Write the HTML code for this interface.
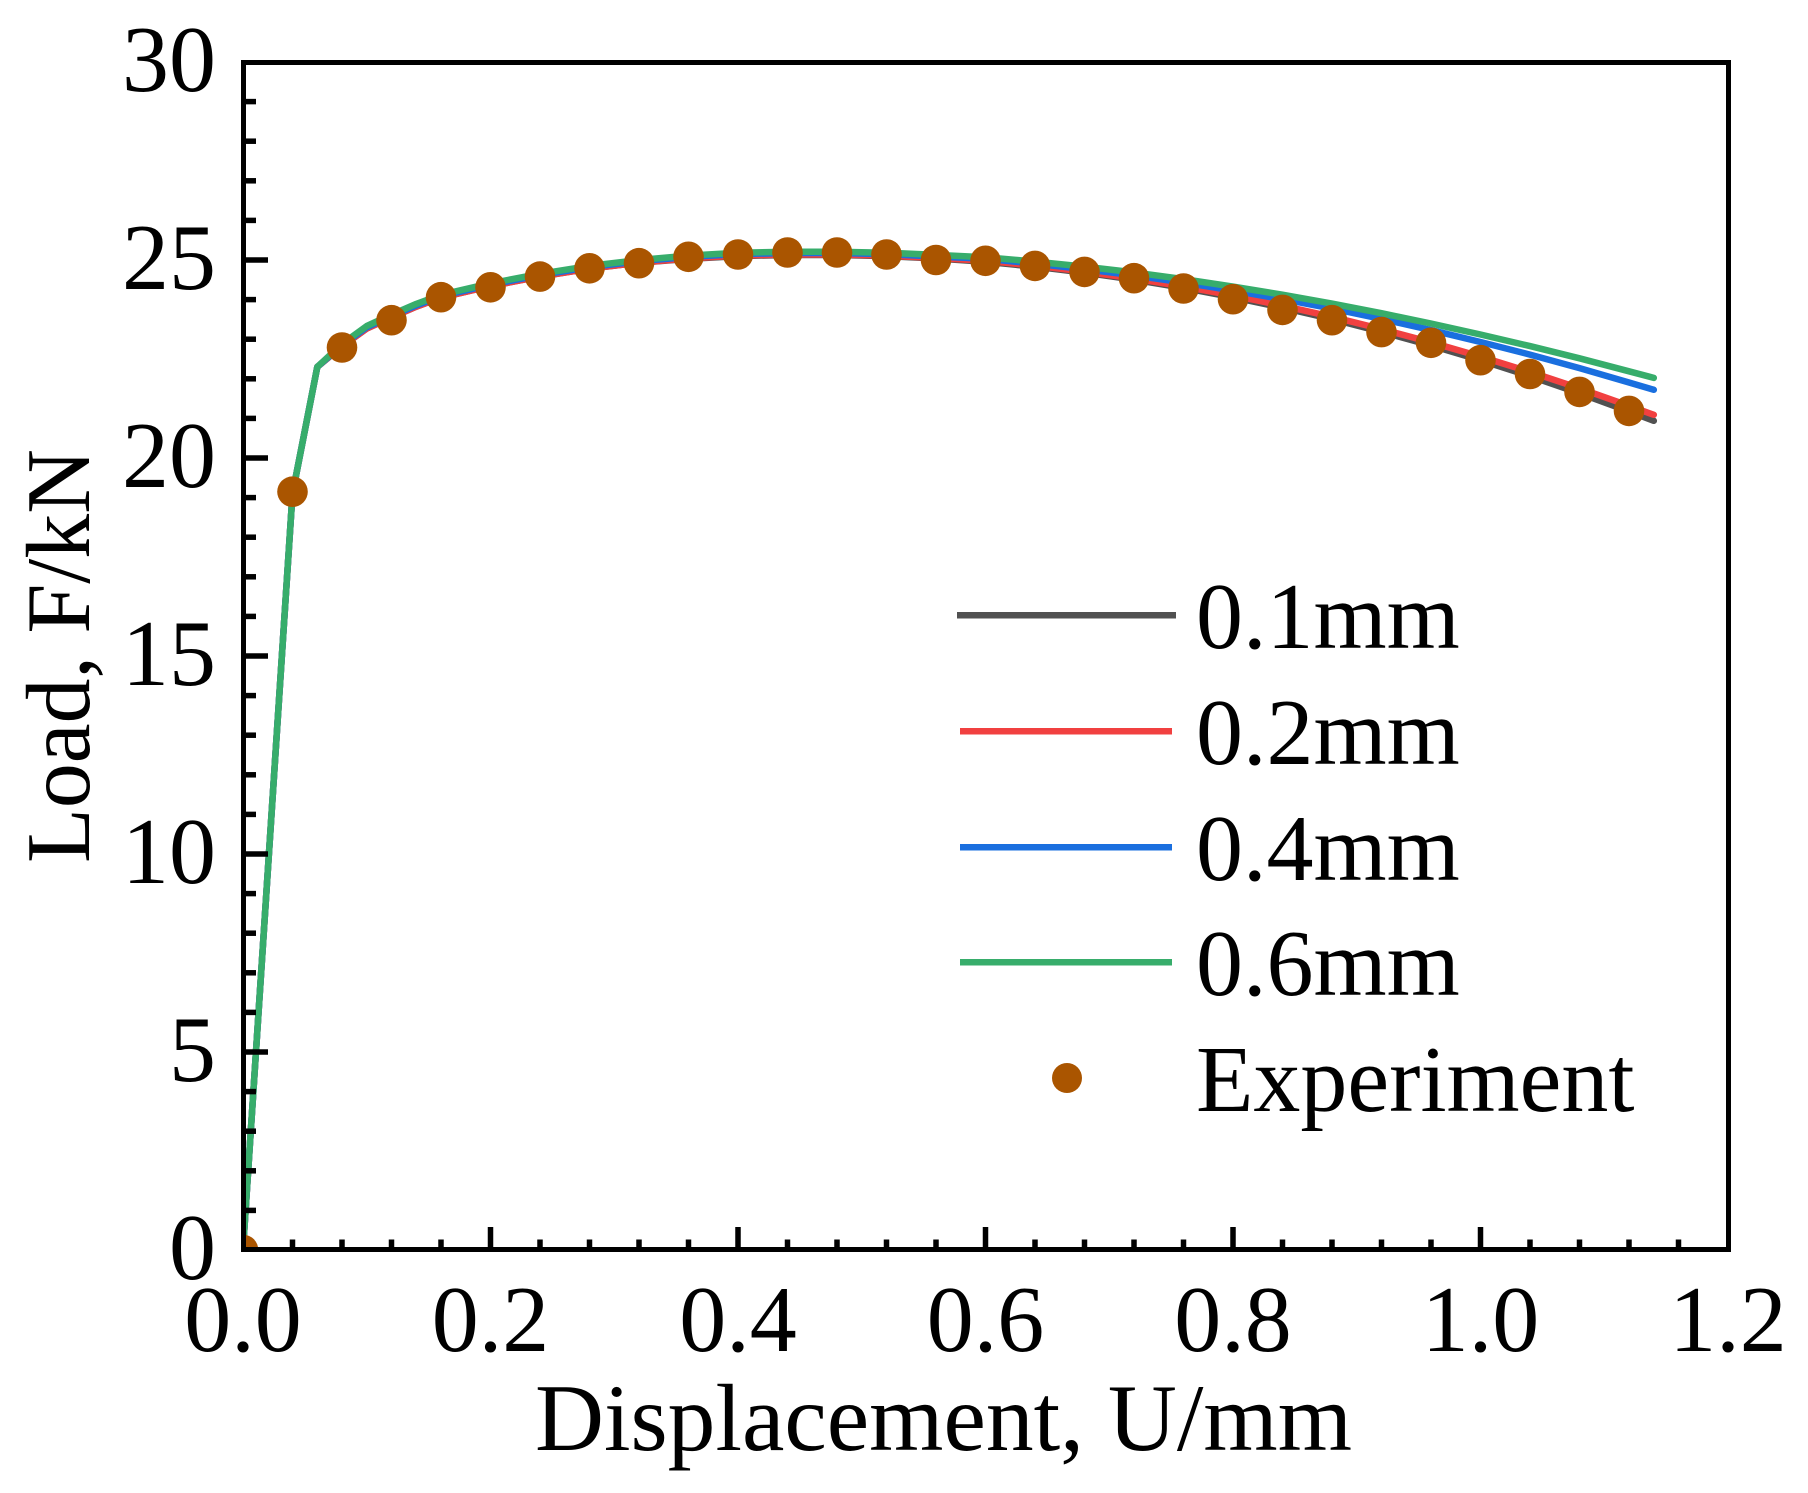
<!DOCTYPE html>
<html>
<head>
<meta charset="utf-8">
<style>
  html, body { margin: 0; padding: 0; background: #ffffff; }
  svg { display: block; }
  text { font-family: "Liberation Serif", "Times New Roman", serif; fill: #000; }
</style>
</head>
<body>
<svg width="1808" height="1493" viewBox="0 0 1808 1493" xmlns="http://www.w3.org/2000/svg">
  <rect x="0" y="0" width="1808" height="1493" fill="#ffffff"/>
  <defs>
    <clipPath id="plot">
      <rect x="243" y="62" width="1485" height="1188"/>
    </clipPath>
  </defs>

  <g clip-path="url(#plot)" fill="none" stroke-width="6.5" stroke-linejoin="round" stroke-linecap="round">
    <!-- 0.1mm gray -->
    <polyline stroke="#515151" points="243,1250 292.5,493.6 317.3,366.9 342,346.3 366.8,328.5 391.5,317.4 416.3,306.7 441,297.6 490.5,286.1 540,276.6 589.5,268.7 639,262.8 688.5,258.9 738,256.1 787.5,255 837,255 886.5,256.1 936,258.5 985.5,261.8 1035,266.7 1084.5,272.7 1134,279.7 1183.5,287.9 1233,297.3 1282.5,307.7 1332,319.1 1381.5,331.9 1431,345.5 1480.5,360.3 1530,376.2 1579.5,393.3 1629,411.4 1653.8,420.8"/>
    <!-- 0.2mm red -->
    <polyline stroke="#F14040" points="243,1250 292.5,493.6 317.3,366.9 342,346.3 366.8,328.5 391.5,317.4 416.3,306.7 441,297.6 490.5,286.1 540,276.6 589.5,268.7 639,262.8 688.5,258.4 738,255.6 787.5,254.5 837,254.5 886.5,255.6 936,258 985.5,260.8 1035,265.7 1084.5,271.6 1134,278.5 1183.5,286.5 1233,295.6 1282.5,305.7 1332,316.8 1381.5,329.1 1431,342.3 1480.5,356.6 1530,371.9 1579.5,388.3 1629,405.8 1653.8,414.8"/>
    <!-- 0.4mm blue -->
    <polyline stroke="#1A6FDF" points="243,1250 292.5,493.6 317.3,366.9 342,345.3 366.8,327.3 391.5,316.2 416.3,305.4 441,296.2 490.5,284.7 540,275.2 589.5,267.2 639,261.3 688.5,256.9 738,254.1 787.5,253 837,253 886.5,254.1 936,256.5 985.5,258.8 1035,263.6 1084.5,269.1 1134,275.4 1183.5,282.5 1233,290.5 1282.5,299.2 1332,308.6 1381.5,319 1431,330.1 1480.5,342 1530,354.6 1579.5,368.1 1629,382.5 1653.8,389.8"/>
    <!-- 0.6mm green -->
    <polyline stroke="#37AD6B" points="243,1250 292.5,493.6 317.3,366.9 342,344 366.8,326 391.5,314.6 416.3,303.9 441,294.8 490.5,283.3 540,273.8 589.5,265.9 639,260 688.5,255.6 738,252.8 787.5,251.7 837,251.7 886.5,252.7 936,254.9 985.5,257.3 1035,261.6 1084.5,266.6 1134,272.4 1183.5,279.1 1233,286.6 1282.5,294.7 1332,303.6 1381.5,313.2 1431,323.5 1480.5,334.5 1530,346.1 1579.5,358.3 1629,371.3 1653.8,377.9"/>

    <!-- Experiment markers -->
    <g fill="#AA5500" stroke="none">
      <circle cx="243" cy="1250" r="15.3"/>
      <circle cx="292.5" cy="491.7" r="15.3"/>
      <circle cx="342" cy="347.5" r="15.3"/>
      <circle cx="391.5" cy="320.2" r="15.3"/>
      <circle cx="441" cy="297.2" r="15.3"/>
      <circle cx="490.5" cy="287.3" r="15.3"/>
      <circle cx="540" cy="276.6" r="15.3"/>
      <circle cx="589.5" cy="268.3" r="15.3"/>
      <circle cx="639" cy="263.2" r="15.3"/>
      <circle cx="688.5" cy="256.8" r="15.3"/>
      <circle cx="738" cy="254.5" r="15.3"/>
      <circle cx="787.5" cy="252.5" r="15.3"/>
      <circle cx="837" cy="252.5" r="15.3"/>
      <circle cx="886.5" cy="254.5" r="15.3"/>
      <circle cx="936" cy="260" r="15.3"/>
      <circle cx="985.5" cy="260.8" r="15.3"/>
      <circle cx="1035" cy="265.9" r="15.3"/>
      <circle cx="1084.5" cy="271.9" r="15.3"/>
      <circle cx="1134" cy="278.2" r="15.3"/>
      <circle cx="1183.5" cy="288.5" r="15.3"/>
      <circle cx="1233" cy="299.2" r="15.3"/>
      <circle cx="1282.5" cy="309.9" r="15.3"/>
      <circle cx="1332" cy="320.2" r="15.3"/>
      <circle cx="1381.5" cy="332.1" r="15.3"/>
      <circle cx="1431" cy="342.8" r="15.3"/>
      <circle cx="1480.5" cy="360.2" r="15.3"/>
      <circle cx="1530" cy="374" r="15.3"/>
      <circle cx="1579.5" cy="391.9" r="15.3"/>
      <circle cx="1629" cy="410.9" r="15.3"/>
    </g>
  </g>

  <!-- Ticks -->
  <g stroke="#000" stroke-width="5.5" fill="none">
    <!-- x major -->
    <line x1="490.5" y1="1250" x2="490.5" y2="1227"/>
    <line x1="738" y1="1250" x2="738" y2="1227"/>
    <line x1="985.5" y1="1250" x2="985.5" y2="1227"/>
    <line x1="1233" y1="1250" x2="1233" y2="1227"/>
    <line x1="1480.5" y1="1250" x2="1480.5" y2="1227"/>
    <!-- x minor -->
    <line x1="292.5" y1="1250" x2="292.5" y2="1239.5"/>
    <line x1="342" y1="1250" x2="342" y2="1239.5"/>
    <line x1="391.5" y1="1250" x2="391.5" y2="1239.5"/>
    <line x1="441" y1="1250" x2="441" y2="1239.5"/>
    <line x1="540" y1="1250" x2="540" y2="1239.5"/>
    <line x1="589.5" y1="1250" x2="589.5" y2="1239.5"/>
    <line x1="639" y1="1250" x2="639" y2="1239.5"/>
    <line x1="688.5" y1="1250" x2="688.5" y2="1239.5"/>
    <line x1="787.5" y1="1250" x2="787.5" y2="1239.5"/>
    <line x1="837" y1="1250" x2="837" y2="1239.5"/>
    <line x1="886.5" y1="1250" x2="886.5" y2="1239.5"/>
    <line x1="936" y1="1250" x2="936" y2="1239.5"/>
    <line x1="1035" y1="1250" x2="1035" y2="1239.5"/>
    <line x1="1084.5" y1="1250" x2="1084.5" y2="1239.5"/>
    <line x1="1134" y1="1250" x2="1134" y2="1239.5"/>
    <line x1="1183.5" y1="1250" x2="1183.5" y2="1239.5"/>
    <line x1="1282.5" y1="1250" x2="1282.5" y2="1239.5"/>
    <line x1="1332" y1="1250" x2="1332" y2="1239.5"/>
    <line x1="1381.5" y1="1250" x2="1381.5" y2="1239.5"/>
    <line x1="1431" y1="1250" x2="1431" y2="1239.5"/>
    <line x1="1530" y1="1250" x2="1530" y2="1239.5"/>
    <line x1="1579.5" y1="1250" x2="1579.5" y2="1239.5"/>
    <line x1="1629" y1="1250" x2="1629" y2="1239.5"/>
    <line x1="1678.5" y1="1250" x2="1678.5" y2="1239.5"/>
    <!-- y major -->
    <line x1="243" y1="1052" x2="268" y2="1052"/>
    <line x1="243" y1="854" x2="268" y2="854"/>
    <line x1="243" y1="656" x2="268" y2="656"/>
    <line x1="243" y1="458" x2="268" y2="458"/>
    <line x1="243" y1="260" x2="268" y2="260"/>
    <!-- y minor -->
    <line x1="243" y1="1210.4" x2="256" y2="1210.4"/>
    <line x1="243" y1="1170.8" x2="256" y2="1170.8"/>
    <line x1="243" y1="1131.2" x2="256" y2="1131.2"/>
    <line x1="243" y1="1091.6" x2="256" y2="1091.6"/>
    <line x1="243" y1="1012.4" x2="256" y2="1012.4"/>
    <line x1="243" y1="972.8" x2="256" y2="972.8"/>
    <line x1="243" y1="933.2" x2="256" y2="933.2"/>
    <line x1="243" y1="893.6" x2="256" y2="893.6"/>
    <line x1="243" y1="814.4" x2="256" y2="814.4"/>
    <line x1="243" y1="774.8" x2="256" y2="774.8"/>
    <line x1="243" y1="735.2" x2="256" y2="735.2"/>
    <line x1="243" y1="695.6" x2="256" y2="695.6"/>
    <line x1="243" y1="616.4" x2="256" y2="616.4"/>
    <line x1="243" y1="576.8" x2="256" y2="576.8"/>
    <line x1="243" y1="537.2" x2="256" y2="537.2"/>
    <line x1="243" y1="497.6" x2="256" y2="497.6"/>
    <line x1="243" y1="418.4" x2="256" y2="418.4"/>
    <line x1="243" y1="378.8" x2="256" y2="378.8"/>
    <line x1="243" y1="339.2" x2="256" y2="339.2"/>
    <line x1="243" y1="299.6" x2="256" y2="299.6"/>
    <line x1="243" y1="220.4" x2="256" y2="220.4"/>
    <line x1="243" y1="180.8" x2="256" y2="180.8"/>
    <line x1="243" y1="141.2" x2="256" y2="141.2"/>
    <line x1="243" y1="101.6" x2="256" y2="101.6"/>
  </g>

  <!-- Frame -->
  <rect x="243.5" y="62.5" width="1485" height="1187" fill="none" stroke="#000" stroke-width="5"/>

  <!-- Y tick labels -->
  <g font-size="94" text-anchor="end">
    <text x="216" y="1279">0</text>
    <text x="216" y="1081">5</text>
    <text x="216" y="883">10</text>
    <text x="216" y="685">15</text>
    <text x="216" y="487">20</text>
    <text x="216" y="289">25</text>
    <text x="216" y="91">30</text>
  </g>

  <!-- X tick labels -->
  <g font-size="94" text-anchor="middle">
    <text x="243" y="1351">0.0</text>
    <text x="490.5" y="1351">0.2</text>
    <text x="738" y="1351">0.4</text>
    <text x="985.5" y="1351">0.6</text>
    <text x="1233" y="1351">0.8</text>
    <text x="1480.5" y="1351">1.0</text>
    <text x="1728" y="1351">1.2</text>
  </g>

  <!-- Axis titles -->
  <text x="535" y="1450" font-size="95" textLength="817" lengthAdjust="spacingAndGlyphs">Displacement, U/mm</text>
  <text transform="translate(89,656) rotate(-90)" x="0" y="0" font-size="91" text-anchor="middle" textLength="414" lengthAdjust="spacingAndGlyphs">Load, F/kN</text>

  <!-- Legend -->
  <g stroke-width="6.5" stroke-linecap="butt">
    <line x1="957" y1="615.3" x2="1176" y2="615.3" stroke="#515151"/>
    <line x1="960" y1="731.3" x2="1172" y2="731.3" stroke="#F14040"/>
    <line x1="960" y1="847.3" x2="1172" y2="847.3" stroke="#1A6FDF"/>
    <line x1="960" y1="962.3" x2="1172" y2="962.3" stroke="#37AD6B"/>
  </g>
  <circle cx="1067" cy="1078" r="15" fill="#AA5500"/>
  <g font-size="94">
    <text x="1196" y="648">0.1mm</text>
    <text x="1196" y="764">0.2mm</text>
    <text x="1196" y="880">0.4mm</text>
    <text x="1196" y="995">0.6mm</text>
    <text x="1196" y="1111">Experiment</text>
  </g>
</svg>
</body>
</html>
